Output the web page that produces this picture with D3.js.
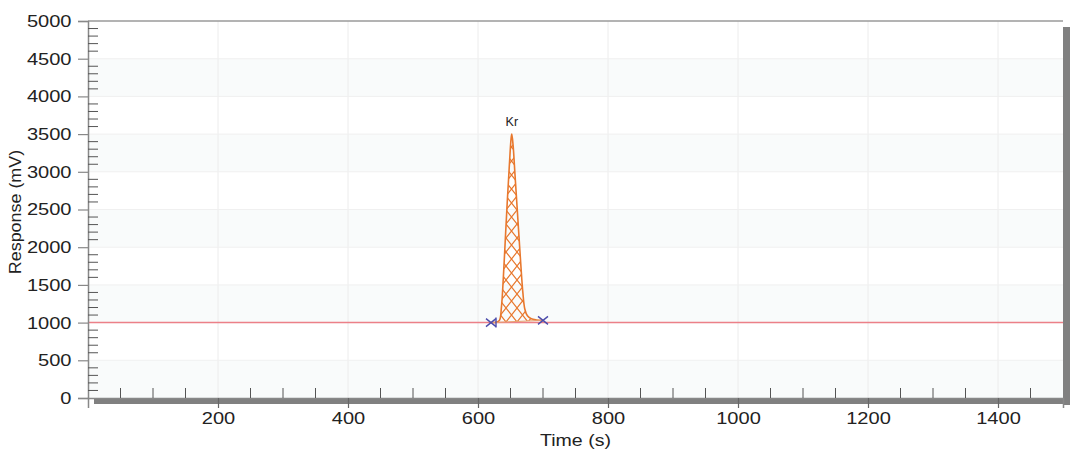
<!DOCTYPE html>
<html>
<head>
<meta charset="utf-8">
<script src="https://cdn.jsdelivr.net/npm/d3@7"></script>
<style>
  html, body { margin: 0; padding: 0; background: #fff; }
  svg { display: block; font-family: "Liberation Sans", Arial, sans-serif; }
</style>
</head>
<body>
<svg id="chart" width="1080" height="457"></svg>
<script>
// ---- data ----
const peakName = "Kr";
const peakTime = [620, 628, 633, 636, 639, 642, 645, 648, 651, 652, 654, 657, 660, 663, 666, 669, 672, 676, 682, 690, 700];
const peakResp = [1000, 1005, 1030, 1200, 1600, 2100, 2600, 3050, 3450, 3500, 3350, 2950, 2550, 2150, 1750, 1400, 1180, 1090, 1050, 1035, 1030];
const baselineResp = 1000;
const peakStart = [620, 1000];
const peakEnd = [700, 1030];
const xTicks = [200, 400, 600, 800, 1000, 1200, 1400];
const yTicks = [0, 500, 1000, 1500, 2000, 2500, 3000, 3500, 4000, 4500, 5000];
const xDomain = [0, 1500];
const yDomain = [0, 5000];

// ---- layout ----
const L = 88, R = 1063, T = 21, B = 398;
const svg = d3.select("#chart");
const x = d3.scaleLinear().domain(xDomain).range([L, R]);
const y = d3.scaleLinear().domain(yDomain).range([B, T]);

const defs = svg.append("defs");
const pat = defs.append("pattern").attr("id", "hatch")
  .attr("patternUnits", "userSpaceOnUse").attr("width", 11).attr("height", 14);
pat.append("path").attr("d", "M0,0L11,14M11,0L0,14")
  .attr("stroke", "#e8782e").attr("stroke-width", 1.2).attr("fill", "none");

// shadows
svg.append("rect").attr("x", R).attr("y", T + 6).attr("width", 7).attr("height", B - T + 1)
  .attr("fill", "#808080");
svg.append("rect").attr("x", L + 6).attr("y", B).attr("width", R - L + 1).attr("height", 6)
  .attr("fill", "#808080");

// plot background with subtle alternating bands
svg.append("rect").attr("x", L).attr("y", T).attr("width", R - L).attr("height", B - T).attr("fill", "#ffffff");
const bands = d3.range(0, 5000, 500).filter((d, i) => i % 2 === 0);
svg.append("g").selectAll("rect").data(bands).join("rect")
  .attr("x", L).attr("width", R - L)
  .attr("y", d => y(d + 500)).attr("height", d => y(d) - y(d + 500))
  .attr("fill", "#f9fbfb");

// grid
svg.append("g").selectAll("line").data(xTicks).join("line")
  .attr("x1", d => x(d)).attr("x2", d => x(d)).attr("y1", T).attr("y2", B)
  .attr("stroke", "#ececec").attr("stroke-width", 1);
svg.append("g").selectAll("line").data(yTicks.filter(d => d > 0 && d < 5000)).join("line")
  .attr("x1", L).attr("x2", R).attr("y1", d => y(d)).attr("y2", d => y(d))
  .attr("stroke", "#f0f0f0").attr("stroke-width", 1);

// baseline red line
svg.append("line").attr("x1", L).attr("x2", R)
  .attr("y1", y(baselineResp)).attr("y2", y(baselineResp))
  .attr("stroke", "#ec8088").attr("stroke-width", 1.5);

// peak
const pts = peakTime.map((t, i) => [t, peakResp[i]]);
const line = d3.line().x(d => x(d[0])).y(d => y(d[1])).curve(d3.curveCatmullRom);
const areaPath = line(pts) + "L" + x(peakStart[0]) + "," + y(peakStart[1]) + "Z";
svg.append("path").attr("d", areaPath).attr("fill", "url(#hatch)").attr("stroke", "none");
svg.append("path").attr("d", line(pts)).attr("fill", "none")
  .attr("stroke", "#e8782e").attr("stroke-width", 1.6);
svg.append("line")
  .attr("x1", x(peakStart[0])).attr("y1", y(peakStart[1]))
  .attr("x2", x(peakEnd[0])).attr("y2", y(peakEnd[1]))
  .attr("stroke", "#e8a070").attr("stroke-width", 1);

// markers
const mc = "#4b4bab";
function xMark(cx, cy, bar) {
  const g = svg.append("g").attr("stroke", mc).attr("stroke-width", 1.4).attr("fill", "none");
  g.append("path").attr("d", `M${cx-5},${cy-4}L${cx+5},${cy+4}M${cx-5},${cy+4}L${cx+5},${cy-4}`);
  if (bar) g.append("path").attr("d", `M${cx+5},${cy-5}L${cx+5},${cy+5}`);
}
xMark(x(peakStart[0]), y(peakStart[1]), true);
xMark(x(peakEnd[0]), y(peakEnd[1]), false);

// peak label
const iMax = d3.maxIndex(peakResp);
svg.append("text").attr("x", x(peakTime[iMax])).attr("y", y(peakResp[iMax]) - 8)
  .attr("text-anchor", "middle").attr("font-size", 12.5).attr("fill", "#222").text(peakName);

// frame top
svg.append("line").attr("x1", L).attr("x2", R).attr("y1", T).attr("y2", T)
  .attr("stroke", "#9a9a9a").attr("stroke-width", 1.5);

// y axis
const yAxis = d3.axisLeft(y).tickValues(yTicks).tickSize(10).tickPadding(4).tickFormat(d3.format("d"));
const gy = svg.append("g").attr("transform", `translate(${L},0)`).call(yAxis);
gy.select(".domain").attr("stroke", "#888").attr("stroke-width", 1.5);
gy.selectAll(".tick line").attr("stroke", "#888").attr("stroke-width", 1.2);
gy.selectAll(".tick text").attr("font-size", 17).attr("fill", "#222")
  .attr("font-family", "Liberation Sans, Arial, sans-serif")
  .attr("transform", "scale(1.18,1)");
const yMinor = d3.range(100, 5000, 100).filter(d => d % 500 !== 0);
svg.append("g").selectAll("line").data(yMinor).join("line")
  .attr("x1", L).attr("x2", L + 10).attr("y1", d => y(d)).attr("y2", d => y(d))
  .attr("stroke", "#555").attr("stroke-width", 1);

// x axis
const xAxis = d3.axisBottom(x).tickValues(xTicks).tickSize(10).tickPadding(4).tickFormat(d3.format("d"));
const gx = svg.append("g").attr("transform", `translate(0,${B})`).call(xAxis);
gx.select(".domain").attr("stroke", "#888").attr("stroke-width", 1.5);
gx.selectAll(".tick line").attr("stroke", "#666").attr("stroke-width", 1.2);
gx.selectAll(".tick text").attr("font-size", 17).attr("fill", "#222")
  .attr("font-family", "Liberation Sans, Arial, sans-serif")
  .attr("transform", "scale(1.18,1)");
const xMinor = d3.range(50, 1500, 50).filter(d => d % 200 !== 0);
svg.append("g").selectAll("line").data(xMinor).join("line")
  .attr("x1", d => x(d)).attr("x2", d => x(d)).attr("y1", B).attr("y2", B - 10)
  .attr("stroke", "#555").attr("stroke-width", 1);

// axis titles
svg.append("text").attr("transform", `translate(${(L + R) / 2 - 0},446) scale(1.15,1)`)
  .attr("text-anchor", "middle").attr("font-size", 17).attr("fill", "#222").text("Time (s)");
svg.append("text").attr("transform", `translate(21,212) rotate(-90) scale(1.12,1)`)
  .attr("text-anchor", "middle").attr("font-size", 16).attr("fill", "#222").text("Response (mV)");
</script>
</body>
</html>
